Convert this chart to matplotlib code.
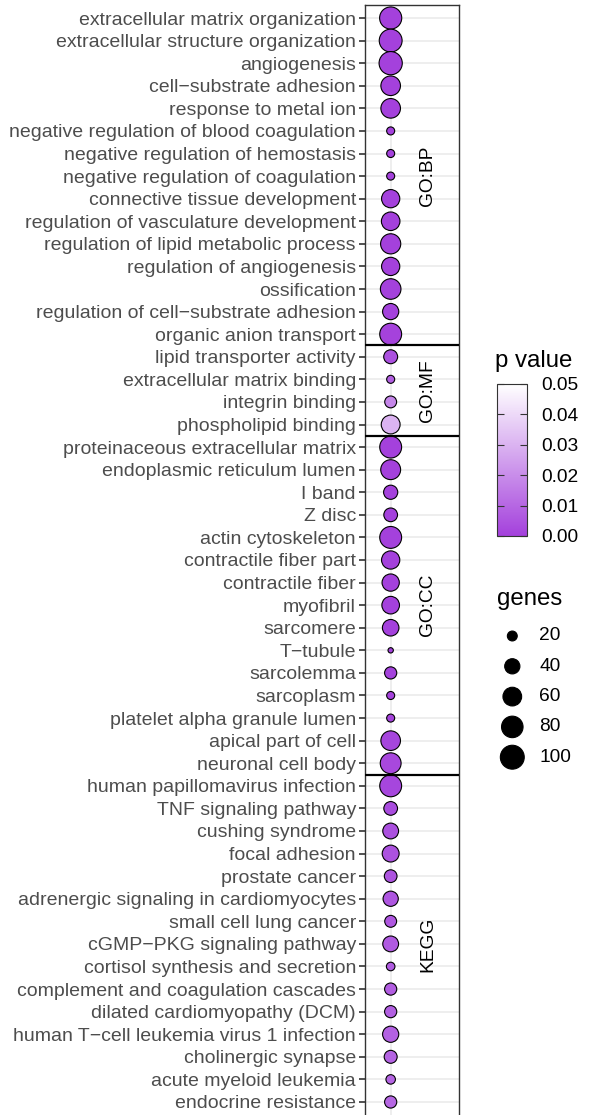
import numpy as np
import matplotlib
matplotlib.use('Agg')
import matplotlib.pyplot as plt
from matplotlib.colors import LinearSegmentedColormap, Normalize
from matplotlib.cm import ScalarMappable

plt.rcParams['font.family'] = ['Liberation Sans', 'DejaVu Sans']

terms = [
    'extracellular matrix organization', 'extracellular structure organization',
    'angiogenesis', 'cell\u2212substrate adhesion', 'response to metal ion',
    'negative regulation of blood coagulation', 'negative regulation of hemostasis',
    'negative regulation of coagulation', 'connective tissue development',
    'regulation of vasculature development', 'regulation of lipid metabolic process',
    'regulation of angiogenesis', 'ossification',
    'regulation of cell\u2212substrate adhesion', 'organic anion transport',
    'lipid transporter activity', 'extracellular matrix binding',
    'integrin binding', 'phospholipid binding',
    'proteinaceous extracellular matrix', 'endoplasmic reticulum lumen', 'I band',
    'Z disc', 'actin cytoskeleton', 'contractile fiber part', 'contractile fiber',
    'myofibril', 'sarcomere', 'T\u2212tubule', 'sarcolemma', 'sarcoplasm',
    'platelet alpha granule lumen', 'apical part of cell', 'neuronal cell body',
    'human papillomavirus infection', 'TNF signaling pathway', 'cushing syndrome',
    'focal adhesion', 'prostate cancer', 'adrenergic signaling in cardiomyocytes',
    'small cell lung cancer', 'cGMP\u2212PKG signaling pathway',
    'cortisol synthesis and secretion', 'complement and coagulation cascades',
    'dilated cardiomyopathy (DCM)', 'human T\u2212cell leukemia virus 1 infection',
    'cholinergic synapse', 'acute myeloid leukemia', 'endocrine resistance',
]
source = ['GO:BP'] * 15 + ['GO:MF'] * 4 + ['GO:CC'] * 15 + ['KEGG'] * 15
genes = [85, 91, 94, 66, 66, 16, 16, 16, 57, 59, 70, 57, 73, 45, 83,
         34, 16, 26, 61,
         83, 68, 35, 33, 83, 57, 51, 53, 47, 13, 27, 16, 16, 66, 75,
         83, 33, 43, 49, 29, 40, 26, 43, 17, 27, 27, 45, 30, 19, 27]
pvals = [1e-8, 2e-8, 5e-8, 1e-6, 2e-6, 1e-5, 2e-5, 3e-5, 5e-5, 8e-5, 1e-4, 1.5e-4, 2e-4, 3e-4, 4e-4,
         0.004, 0.008, 0.018, 0.030,
         1e-9, 1e-7, 1e-6, 2e-6, 5e-6, 1e-5, 2e-5, 3e-5, 5e-5, 1e-4, 2e-4, 4e-4, 6e-4, 1.5e-3, 2e-3,
         0.0015, 0.003, 0.004, 0.0045, 0.005, 0.0055, 0.006, 0.0065, 0.007, 0.0075, 0.008,
         0.0085, 0.009, 0.0095, 0.010]
size_breaks = [20, 40, 60, 80, 100]
p_breaks = [0.00, 0.01, 0.02, 0.03, 0.04, 0.05]

W, H, DPI = 592, 1115, 100
FS = 13.8
FS_AX = 14.0
cmap = LinearSegmentedColormap.from_list('pv', ['#A441DC', '#FFFFFF'])
norm = Normalize(0, 0.05)
LW = 0.8


def marker_area(g):
    d_px = 5.3 + 2.11 * np.sqrt(np.clip(np.asarray(g, float) - 12.7, 0, None))
    d_pt = d_px * 72 / DPI
    return (d_pt - LW) ** 2


fig = plt.figure(figsize=(W / DPI, H / DPI), dpi=DPI)
ax = fig.add_axes([365 / W, 0, 94 / W, 1110 / H])

y = np.arange(len(terms))
ax.scatter(np.ones(len(terms)), y, s=marker_area(genes), c=pvals, cmap=cmap, norm=norm,
           edgecolors='black', linewidths=LW, zorder=3)

# facet separators and labels
src = np.array(source)
for i in range(1, len(src)):
    if src[i] != src[i - 1]:
        ax.axhline(i - 0.5, color='black', lw=1.6, zorder=4)
for f in dict.fromkeys(source):
    ax.text(2, y[src == f].mean(), f, rotation=90, ha='center', va='center',
            fontsize=FS, color='black')

ax.set_xlim(0.312, 2.831)
ax.set_ylim(48.576, -0.576)
ax.set_xticks([1])
ax.tick_params(axis='x', length=0, labelbottom=False)
ax.set_yticks(y)
ax.set_yticklabels(terms, fontsize=FS_AX, color='#4D4D4D')
ax.tick_params(axis='y', length=4.3, width=1.2, color='#333333', pad=2.2)
ax.grid(True, color='#EBEBEB', lw=1.2)
ax.set_axisbelow(True)
for side in ['top', 'left', 'right']:
    ax.spines[side].set_color('#333333')
    ax.spines[side].set_linewidth(1.0)
ax.spines['bottom'].set_visible(False)

# colour legend
fig.text(495 / W, 1 - 367 / H, 'p value', fontsize=17.3, va='baseline', ha='left')
cax = fig.add_axes([497 / W, 1 - 536 / H, 30 / W, 152 / H])
cb = fig.colorbar(ScalarMappable(norm=norm, cmap=cmap), cax=cax, ticks=p_breaks)
cb.ax.set_yticklabels(['%.2f' % v for v in p_breaks], fontsize=FS)
cb.ax.tick_params(direction='in', left=True, right=True, length=5, width=0.8,
                  color='#333333', pad=10)
cb.outline.set_edgecolor('#333333')
cb.outline.set_linewidth(0.8)

# size legend
lax = fig.add_axes([0, 0, 1, 1])
lax.set_xlim(0, W)
lax.set_ylim(H, 0)
lax.axis('off')
lax.text(497, 605, 'genes', fontsize=17.3, va='baseline', ha='left')
ky = 636 + 30.3 * np.arange(len(size_breaks))
lax.scatter(np.full(len(size_breaks), 512.3), ky, s=marker_area(size_breaks),
            c='black', edgecolors='black', linewidths=LW)
for yy, b in zip(ky, size_breaks):
    lax.text(539.3, yy, str(b), fontsize=FS, va='center', ha='left')

fig.savefig('out.png', dpi=DPI)
